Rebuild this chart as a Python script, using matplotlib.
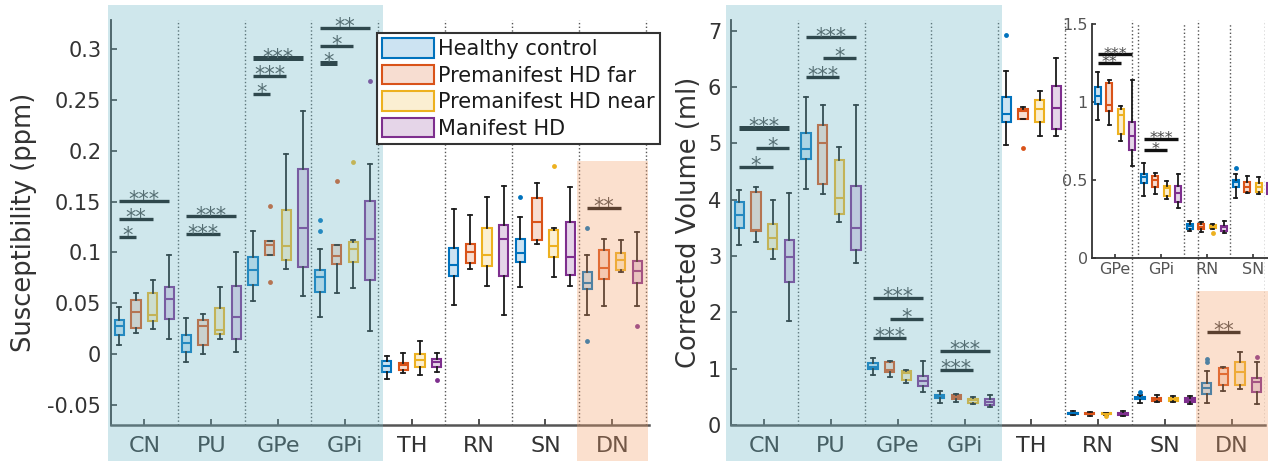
import matplotlib
matplotlib.use("Agg")
import matplotlib.pyplot as plt
from matplotlib.patches import Rectangle, Patch
from matplotlib.transforms import blended_transform_factory
from matplotlib.ticker import FuncFormatter, FixedLocator
from matplotlib.colors import to_rgb

plt.rcParams["font.family"] = ["DejaVu Sans"]
plt.rcParams["axes.unicode_minus"] = False

# ---------------------------------------------------------------- data
regions = ["CN", "PU", "GPe", "GPi", "TH", "RN", "SN", "DN"]
groups = ["Healthy control", "Premanifest HD far", "Premanifest HD near", "Manifest HD"]
group_colors = ["#0072BD", "#D95319", "#EDB120", "#7E2F8E"]

# Susceptibility (ppm): per region, per group [HC, far, near, manifest]
susc_whislo = [[0.0092, 0.0210, 0.0246, 0.0151], [-0.0076, -0.0004, 0.0151, 0.0020],
               [0.0518, 0.0970, 0.0836, 0.0574], [0.0364, 0.0600, 0.0646, 0.0222],
               [-0.0243, -0.0187, -0.0204, -0.0181], [0.0482, 0.0839, 0.0672, 0.0387],
               [0.0659, 0.1085, 0.0754, 0.0672], [0.0387, 0.0469, 0.0803, 0.0469]]
susc_q1 = [[0.0183, 0.0256, 0.0325, 0.0347], [0.0020, 0.0092, 0.0197, 0.0148],
           [0.0679, 0.0974, 0.0928, 0.0856], [0.0606, 0.0882, 0.0905, 0.0731],
           [-0.0174, -0.0160, -0.0125, -0.0125], [0.0764, 0.0895, 0.0869, 0.0764],
           [0.0905, 0.1122, 0.0954, 0.0777], [0.0636, 0.0741, 0.0823, 0.0695]]
susc_med = [[0.0272, 0.0413, 0.0387, 0.0541], [0.0105, 0.0272, 0.0239, 0.0364],
            [0.0826, 0.1075, 0.1059, 0.1240], [0.0754, 0.0967, 0.1036, 0.1132],
            [-0.0122, -0.0105, -0.0063, -0.0083], [0.0872, 0.1000, 0.0977, 0.1134],
            [0.0990, 0.1299, 0.1059, 0.0954], [0.0695, 0.0849, 0.0921, 0.0813]]
susc_q3 = [[0.0331, 0.0528, 0.0600, 0.0662], [0.0187, 0.0338, 0.0449, 0.0672],
           [0.0957, 0.1112, 0.1420, 0.1820], [0.0826, 0.1075, 0.1098, 0.1511],
           [-0.0073, -0.0085, 0.0000, -0.0049], [0.1039, 0.1085, 0.1240, 0.1275],
           [0.1134, 0.1535, 0.1220, 0.1299], [0.0803, 0.1020, 0.0990, 0.0911]]
susc_whishi = [[0.0459, 0.0600, 0.0731, 0.0977], [0.0350, 0.0397, 0.0662, 0.1004],
               [0.1216, 0.1115, 0.1974, 0.2391], [0.1036, 0.1078, 0.1118, 0.1870],
               [-0.0017, 0.0010, 0.0124, 0.0010], [0.1430, 0.1370, 0.1548, 0.1656],
               [0.1348, 0.1689, 0.1243, 0.1643], [0.0977, 0.1134, 0.1122, 0.1197]]
# outliers keyed by (region index, group index)
susc_fliers = {(2, 1): [0.1462, 0.0709],
               (3, 0): [0.1315, 0.1216], (3, 1): [0.1699], (3, 2): [0.1895], (3, 3): [0.2689],
               (4, 3): [-0.0253],
               (6, 0): [0.1550], (6, 2): [0.1850],
               (7, 0): [0.1236, 0.0124], (7, 3): [0.0278]}

# Corrected volume (ml)
vol_whislo = [[3.196, 3.243, 2.942, 1.855], [4.195, 4.094, 3.610, 2.883],
              [0.884, 0.850, 0.749, 0.588], [0.399, 0.410, 0.378, 0.318],
              [4.974, 5.440, 5.128, 5.128], [0.176, 0.165, 0.185, 0.162],
              [0.384, 0.416, 0.410, 0.380], [0.385, 0.610, 0.645, 0.367]]
vol_q1 = [[3.491, 3.450, 3.131, 2.534], [4.731, 4.283, 3.752, 3.114],
          [0.990, 0.945, 0.796, 0.695], [0.481, 0.455, 0.399, 0.356],
          [5.376, 5.440, 5.376, 5.252], [0.189, 0.189, 0.191, 0.174],
          [0.455, 0.420, 0.420, 0.410], [0.544, 0.703, 0.703, 0.585]]
vol_med = [[3.734, 3.462, 3.326, 2.984], [4.891, 5.010, 4.030, 3.491],
           [1.037, 0.979, 0.916, 0.784], [0.517, 0.502, 0.449, 0.417],
           [5.530, 5.571, 5.612, 5.636], [0.206, 0.200, 0.200, 0.197],
           [0.486, 0.455, 0.453, 0.440], [0.663, 0.898, 0.939, 0.762]]
vol_q3 = [[3.952, 4.141, 3.569, 3.285], [5.187, 5.334, 4.696, 4.248],
          [1.093, 1.120, 0.953, 0.874], [0.541, 0.524, 0.464, 0.464],
          [5.825, 5.618, 5.766, 6.020], [0.217, 0.217, 0.210, 0.208],
          [0.498, 0.486, 0.481, 0.480], [0.751, 1.010, 1.117, 0.833]]
vol_whishi = [[4.165, 4.224, 3.987, 4.118], [5.825, 5.678, 4.934, 5.678],
              [1.193, 1.140, 0.974, 1.140], [0.610, 0.547, 0.496, 0.541],
              [6.280, 5.642, 5.937, 6.510], [0.240, 0.230, 0.219, 0.240],
              [0.541, 0.524, 0.517, 0.520], [0.957, 1.035, 1.300, 1.117]]
vol_fliers = {(4, 0): [6.93], (4, 1): [4.921],
              (5, 2): [0.159],
              (6, 0): [0.580],
              (7, 0): [1.170, 1.120], (7, 3): [1.212]}

# regions repeated in the zoomed volume inset
inset_regions = [2, 3, 5, 6]

# significance brackets: (region, group a, group b, height, stars, line width)
susc_sig = [(0, 0, 1, 0.1152, "*", 2.4), (0, 0, 2, 0.1329, "**", 2.4), (0, 0, 3, 0.1506, "***", 2.4),
            (1, 0, 2, 0.1178, "***", 2.4), (1, 0, 3, 0.1355, "***", 2.4),
            (2, 0, 1, 0.2565, "*", 2.4), (2, 0, 2, 0.2742, "***", 2.4), (2, 0, 3, 0.2913, "***", 3.6),
            (3, 0, 1, 0.2866, "*", 3.6), (3, 0, 2, 0.3037, "*", 2.4), (3, 0, 3, 0.3214, "**", 2.4),
            (7, 0, 2, 0.1437, "**", 2.4)]
vol_sig = [(0, 0, 2, 4.584, "*", 2.4), (0, 1, 3, 4.921, "*", 2.4), (0, 0, 3, 5.270, "***", 3.6),
           (1, 0, 2, 6.179, "***", 2.4), (1, 1, 3, 6.522, "*", 2.4), (1, 0, 3, 6.883, "***", 2.4),
           (2, 0, 2, 1.549, "***", 2.4), (2, 1, 3, 1.885, "*", 2.4), (2, 0, 3, 2.251, "***", 2.4),
           (3, 0, 2, 0.975, "***", 2.4), (3, 0, 3, 1.312, "***", 2.4),
           (7, 0, 2, 1.655, "**", 2.4)]
inset_sig = [(2, 0, 2, 1.251, "**", 2.4), (2, 0, 3, 1.305, "***", 2.4),
             (3, 0, 2, 0.691, "*", 2.4), (3, 0, 3, 0.764, "***", 2.4)]

# ---------------------------------------------------------------- style
OFFSETS = [-0.375, -0.125, 0.125, 0.375]
BOX_W = 0.14
SHADE_BLUE = "#6eb9c8"
SHADE_ORANGE = "#f3a16d"
SHADE_ALPHA = 0.33
TEXT_DARK = "#333333"


def light(color, frac=0.2):
    r, g, b = to_rgb(color)
    return (frac * r + 1 - frac, frac * g + 1 - frac, frac * b + 1 - frac)


def draw_boxes(ax, region_ids, lo, q1, med, q3, hi, fliers):
    for gi, color in enumerate(group_colors):
        stats, pos = [], []
        for k, r in enumerate(region_ids):
            stats.append(dict(whislo=lo[r][gi], q1=q1[r][gi], med=med[r][gi],
                              q3=q3[r][gi], whishi=hi[r][gi],
                              fliers=fliers.get((r, gi), [])))
            pos.append(k + 1 + OFFSETS[gi])
        ax.bxp(stats, positions=pos, widths=BOX_W, capwidths=0.06,
               patch_artist=True, manage_ticks=False,
               boxprops=dict(facecolor=light(color), edgecolor=color, linewidth=1.5),
               medianprops=dict(color=color, linewidth=1.5),
               whiskerprops=dict(color="#1a1a1a", linewidth=1.3),
               capprops=dict(color="#1a1a1a", linewidth=1.3),
               flierprops=dict(marker="o", markersize=3.5, markerfacecolor=color,
                               markeredgecolor="none"))


def draw_sig(ax, bars, fontsize=15, drop=-3.8, region_map=None):
    for r, a, b, y, stars, lw in bars:
        k = region_map.index(r) if region_map else r
        xa = k + 1 + OFFSETS[a]
        xb = k + 1 + OFFSETS[b]
        ax.plot([xa, xb], [y, y], color="#111111", lw=lw, solid_capstyle="butt", zorder=3)
        ax.annotate(stars, xy=((xa + xb) / 2, y), xytext=(0, drop),
                    textcoords="offset points", ha="center", va="baseline",
                    fontsize=fontsize, color="#4a4a4a", zorder=3)


def style_axis(ax, n, labels, ylim, tick_fs, label_fs, tick_len=4):
    ax.set_facecolor("none")
    ax.set_ylim(*ylim)
    for s in ("top", "right"):
        ax.spines[s].set_visible(False)
    ax.spines["left"].set_color("#333333")
    ax.spines["left"].set_linewidth(1.3)
    ax.spines["bottom"].set_color("#555555")
    ax.spines["bottom"].set_linewidth(1.8)
    ax.set_xticks(range(1, n + 1))
    ax.set_xticklabels(labels)
    ax.tick_params(axis="both", direction="in", length=tick_len, width=1.2,
                   color="#333333", labelcolor=TEXT_DARK)
    ax.tick_params(axis="y", labelsize=tick_fs, pad=7)
    ax.tick_params(axis="x", labelsize=label_fs, pad=8)
    for i in range(1, n + 1):
        ax.axvline(i + 0.5, color="#555555", lw=1.0, ls=":", zorder=1)


def shade(ax, x0, x1, top, color, bottom=-0.09):
    tr = blended_transform_factory(ax.transData, ax.transAxes)
    ax.add_patch(Rectangle((x0, bottom), x1 - x0, top - bottom, transform=tr,
                           facecolor=color, edgecolor="none", alpha=SHADE_ALPHA,
                           clip_on=False, zorder=4.5))


fmt = FuncFormatter(lambda v, p: "%g" % round(v, 4))

fig = plt.figure(figsize=(12.68, 4.61), dpi=100)

# ---------------------------------------------------------------- susceptibility
ax1 = fig.add_axes([111 / 1268, 36 / 461, 538 / 1268, 405 / 461])
draw_boxes(ax1, range(8), susc_whislo, susc_q1, susc_med, susc_q3, susc_whishi, susc_fliers)
draw_sig(ax1, susc_sig)
style_axis(ax1, 8, regions, (-0.07, 0.329), 15, 16)
ax1.set_xlim(0.5, 8.55)
ax1.yaxis.set_major_locator(FixedLocator([-0.05, 0, 0.05, 0.1, 0.15, 0.2, 0.25, 0.3]))
ax1.yaxis.set_major_formatter(fmt)
ax1.set_ylabel("Susceptibility (ppm)", fontsize=18.5, color=TEXT_DARK)
ax1.yaxis.set_label_coords(-0.137, 0.5)
lim1 = ax1.get_ylim()
shade(ax1, 0.45, 4.57, 1.037, SHADE_BLUE)
shade(ax1, 7.48, 8.54, (0.19 - lim1[0]) / (lim1[1] - lim1[0]), SHADE_ORANGE)

handles = [Patch(facecolor=light(c), edgecolor=c, linewidth=1.5) for c in group_colors]
leg = ax1.legend(handles, groups, loc="upper left",
                 bbox_to_anchor=(377 / 1268, 1 - 33 / 461), bbox_transform=fig.transFigure,
                 fontsize=15, frameon=True, fancybox=False, framealpha=1,
                 edgecolor="#333333", borderpad=0.25, borderaxespad=0,
                 handlelength=2.5, handleheight=1.05, handletextpad=0.2,
                 labelspacing=0.28)
leg.get_frame().set_linewidth(1.5)
leg.set_zorder(10)
for t in leg.get_texts():
    t.set_color("#1a1a1a")

# ---------------------------------------------------------------- volume
ax2 = fig.add_axes([731 / 1268, 36 / 461, 534 / 1268, 405 / 461])
draw_boxes(ax2, range(8), vol_whislo, vol_q1, vol_med, vol_q3, vol_whishi, vol_fliers)
draw_sig(ax2, vol_sig)
style_axis(ax2, 8, regions, (0, 7.19), 15, 16)
ax2.set_xlim(0.5, 8.5)
ax2.yaxis.set_major_locator(FixedLocator(range(0, 8)))
ax2.yaxis.set_major_formatter(fmt)
ax2.set_ylabel("Corrected Volume (ml)", fontsize=18.5, color=TEXT_DARK)
ax2.yaxis.set_label_coords(-0.054, 0.5)
lim2 = ax2.get_ylim()
shade(ax2, 0.43, 4.56, 1.037, SHADE_BLUE)
shade(ax2, 7.47, 8.6, (2.38 - lim2[0]) / (lim2[1] - lim2[0]), SHADE_ORANGE)

# ---------------------------------------------------------------- zoomed inset
ax3 = fig.add_axes([1092 / 1268, 1 - 258 / 461, 184 / 1268, 234 / 461])
draw_boxes(ax3, inset_regions, vol_whislo, vol_q1, vol_med, vol_q3, vol_whishi, vol_fliers)
draw_sig(ax3, inset_sig, fontsize=11.5, drop=-3.0, region_map=inset_regions)
style_axis(ax3, 4, [regions[r] for r in inset_regions], (0, 1.5), 11.5, 11.5, tick_len=3)
ax3.set_xlim(0.5, 4.5)
ax3.spines["bottom"].set_linewidth(1.3)
ax3.spines["bottom"].set_color("#333333")
ax3.yaxis.set_major_locator(FixedLocator([0, 0.5, 1, 1.5]))
ax3.yaxis.set_major_formatter(fmt)
ax3.tick_params(axis="both", labelcolor="#555555")
ax3.tick_params(axis="y", pad=3)
ax3.tick_params(axis="x", pad=3)

fig.savefig("out.png", dpi=100)
